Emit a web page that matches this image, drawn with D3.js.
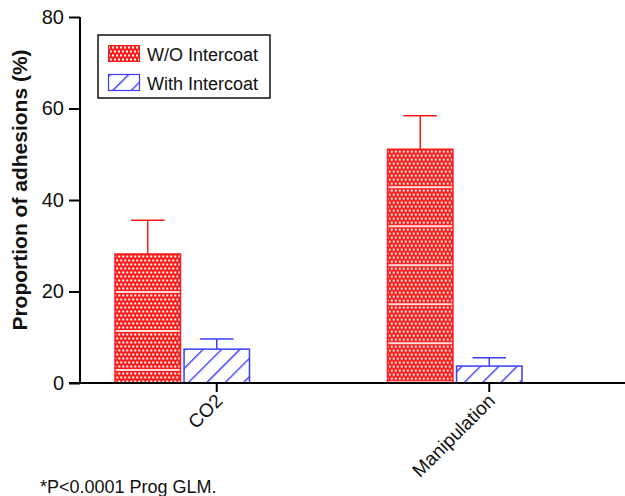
<!DOCTYPE html>
<html><head><meta charset="utf-8">
<script src="https://cdn.jsdelivr.net/npm/d3@7/dist/d3.min.js"></script>
<style>body{margin:0;background:#fff}text{font-family:"Liberation Sans",Arial,sans-serif}</style>
</head><body>
<svg id="c" width="625" height="496"></svg>
<script>
const categories = ["CO2", "Manipulation"];
const seriesNames = ["W/O Intercoat", "With Intercoat"];
const woIntercoat = [28.2, 51.1];
const woIntercoatErr = [7.4, 7.3];
const withIntercoat = [7.4, 3.7];
const withIntercoatErr = [2.2, 1.8];
const yTicks = [0, 20, 40, 60, 80];
const footnote = "*P<0.0001 Prog GLM.";

const svg = d3.select("#c");
const defs = svg.append("defs");
const red = "#ff1a1a", blue = "#3c3cff";
const x0 = 80, xEnd = 625, yTop = 17, yBot = 383;

const x = d3.scalePoint().domain(categories).range([x0, xEnd]).padding(0.5);
const xs = d3.scaleBand().domain(seriesNames).range([-102, 34]).paddingInner(0.03);
const y = d3.scaleLinear().domain([0, 80]).range([yBot, yTop]);

const data = [];
categories.forEach((c, i) => {
  data.push({cat: c, s: seriesNames[0], v: woIntercoat[i], e: woIntercoatErr[i], i});
  data.push({cat: c, s: seriesNames[1], v: withIntercoat[i], e: withIntercoatErr[i], i});
});

function redPattern(id, px, py) {
  const p = defs.append("pattern").attr("id", id).attr("patternUnits", "userSpaceOnUse")
    .attr("x", px).attr("y", py).attr("width", 4).attr("height", 39);
  p.append("rect").attr("width", 4).attr("height", 39).attr("fill", red);
  for (let r = 0; r < 9; r++) {
    p.append("rect").attr("x", (r % 2) * 2).attr("y", 1.5 + r * 4).attr("width", 2).attr("height", 2).attr("fill", "#fff");
  }
  p.append("rect").attr("x", 0).attr("y", 37).attr("width", 4).attr("height", 2).attr("fill", "#fff").attr("opacity", 0.85);
}
defs.append("pattern").attr("id", "hatch").attr("patternUnits", "userSpaceOnUse")
  .attr("width", 13).attr("height", 13).attr("patternTransform", "rotate(45)")
  .call(p => {
    p.append("rect").attr("width", 13).attr("height", 13).attr("fill", "#fff");
    p.append("line").attr("x1", 0).attr("y1", 0).attr("x2", 0).attr("y2", 13).attr("stroke", blue).attr("stroke-width", 2.8);
  });

// bars
const g = svg.append("g");
data.forEach((d, k) => {
  const bx = x(d.cat) + xs(d.s), bw = xs.bandwidth(), by = y(d.v), bh = y(0) - y(d.v);
  const col = d.s === seriesNames[0] ? red : blue;
  let fill;
  if (d.s === seriesNames[0]) { redPattern("rp" + k, bx, by); fill = "url(#rp" + k + ")"; }
  else fill = "url(#hatch)";
  g.append("rect").attr("x", bx + 0.75).attr("y", by).attr("width", bw - 1.5).attr("height", bh)
    .attr("fill", fill).attr("stroke", col).attr("stroke-width", 1.5);
  const cx = bx + bw / 2;
  g.append("line").attr("x1", cx).attr("x2", cx).attr("y1", by).attr("y2", y(d.v + d.e)).attr("stroke", col).attr("stroke-width", 1.5);
  g.append("line").attr("x1", cx - bw / 4).attr("x2", cx + bw / 4).attr("y1", y(d.v + d.e)).attr("y2", y(d.v + d.e)).attr("stroke", col).attr("stroke-width", 1.5);
});

// y axis
const ya = svg.append("g").attr("transform", `translate(${x0},0)`)
  .call(d3.axisLeft(y).tickValues(yTicks).tickSize(11).tickPadding(5));
ya.select(".domain").attr("stroke-width", 2).attr("d", `M0,${yTop}V${yBot}`);
ya.selectAll(".tick line").attr("stroke-width", 2);
ya.selectAll("text").attr("font-size", 20).attr("fill", "#111");

// x axis
const xa = svg.append("g").attr("transform", `translate(0,${yBot})`)
  .call(d3.axisBottom(x).tickSize(9).tickFormat(() => ""));
xa.select(".domain").attr("stroke-width", 2).attr("d", `M69,0H${xEnd}`);
xa.selectAll(".tick line").attr("stroke-width", 2);
xa.selectAll(".tick").append("text").attr("fill", "#111").attr("font-size", 19)
  .attr("text-anchor", "end").attr("transform", "translate(7,19) rotate(-45)")
  .text(d => d);

// y title
svg.append("text").attr("transform", `translate(27,190) rotate(-90)`)
  .attr("text-anchor", "middle").attr("font-size", 21).attr("font-weight", "bold").attr("fill", "#111")
  .text("Proportion of adhesions (%)");

// legend
const lg = svg.append("g");
lg.append("rect").attr("x", 98).attr("y", 35).attr("width", 172).attr("height", 63)
  .attr("fill", "#fff").attr("stroke", "#111").attr("stroke-width", 1.5);
redPattern("rpl", 108, 45);
lg.append("rect").attr("x", 108.5).attr("y", 45.5).attr("width", 31).attr("height", 16)
  .attr("fill", "url(#rpl)").attr("stroke", red).attr("stroke-width", 1);
lg.append("rect").attr("x", 108.5).attr("y", 74.5).attr("width", 31).attr("height", 16)
  .attr("fill", "url(#hatch)").attr("stroke", blue).attr("stroke-width", 1.2);
lg.selectAll("text.l").data(seriesNames).join("text").attr("class", "l")
  .attr("x", 147).attr("y", (d, i) => 61 + i * 29).attr("font-size", 18).attr("fill", "#111").text(d => d);

svg.append("text").attr("x", 40).attr("y", 493).attr("font-size", 18).attr("fill", "#111").text(footnote);
</script>
</body></html>
